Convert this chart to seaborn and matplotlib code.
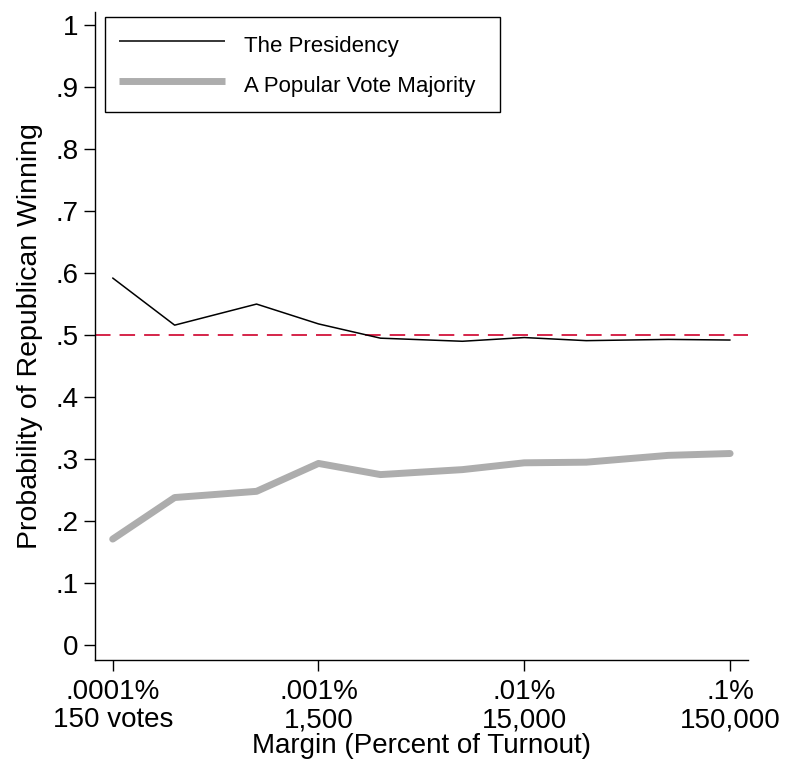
import matplotlib
matplotlib.use("Agg")
import matplotlib.pyplot as plt
import seaborn as sns
import pandas as pd
import numpy as np

# ---- data ----
margin_pct = [0.0001, 0.0002, 0.0005, 0.001, 0.002, 0.005, 0.01, 0.02, 0.05, 0.1]
presidency = [0.592, 0.516, 0.550, 0.518, 0.495, 0.490, 0.496, 0.491, 0.493, 0.492]
popular_majority = [0.171, 0.238, 0.248, 0.293, 0.275, 0.283, 0.294, 0.295, 0.306, 0.309]
series_names = ["The Presidency", "A Popular Vote Majority"]
xtick_vals = [0.0001, 0.001, 0.01, 0.1]
xtick_labels = [".0001%\n150 votes", ".001%\n1,500", ".01%\n15,000", ".1%\n150,000"]
ytick_vals = [0, 0.1, 0.2, 0.3, 0.4, 0.5, 0.6, 0.7, 0.8, 0.9, 1.0]
ytick_labels = ["0", ".1", ".2", ".3", ".4", ".5", ".6", ".7", ".8", ".9", "1"]
reference_level = 0.5

df = pd.DataFrame({
    "margin": margin_pct * 2,
    "prob": presidency + popular_majority,
    "series": [series_names[0]] * len(margin_pct) + [series_names[1]] * len(margin_pct),
})

sns.set_theme(style="ticks")
plt.rcParams["font.family"] = ["Liberation Sans", "DejaVu Sans"]

FS = 20
fig = plt.figure(figsize=(7.87, 7.70), dpi=100)
ax = fig.add_axes([95 / 787, 1 - 660 / 770, (748 - 95) / 787, (660 - 12) / 770])

ax.axhline(reference_level, color="#D2143C", lw=1.3, linestyle=(0, (8.6, 5.0)), zorder=1)

sns.lineplot(
    data=df, x="margin", y="prob", hue="series", size="series",
    hue_order=series_names, size_order=series_names,
    palette={series_names[0]: "black", series_names[1]: "#ADADAD"},
    sizes={series_names[0]: 1.1, series_names[1]: 5.0},
    ax=ax, legend=True, zorder=3,
)
for ln in ax.get_lines():
    ln.set_solid_capstyle("round")
    ln.set_solid_joinstyle("round")

ax.set_xscale("log")
ax.set_xlim(1e-4 * 10 ** -0.086, 1e-4 * 10 ** 3.087)
ax.set_ylim(-0.024, 1.021)
ax.set_xticks(xtick_vals)
ax.set_xticklabels(xtick_labels, fontsize=FS, linespacing=1.1)
ax.xaxis.set_minor_locator(matplotlib.ticker.NullLocator())
ax.set_yticks(ytick_vals)
ax.set_yticklabels(ytick_labels, fontsize=FS)
ax.tick_params(axis="both", direction="out", length=8, width=1.0, color="black", labelcolor="black")
ax.tick_params(axis="x", pad=6)
ax.tick_params(axis="y", pad=4)

ax.set_xlabel("Margin (Percent of Turnout)", fontsize=FS, labelpad=0, color="black")
ax.set_ylabel("Probability of Republican Winning", fontsize=20.5, labelpad=9, color="black")

for s in ["top", "right"]:
    ax.spines[s].set_visible(False)
for s in ["left", "bottom"]:
    ax.spines[s].set_color("black")
    ax.spines[s].set_linewidth(1.0)

handles, labels = ax.get_legend_handles_labels()
leg = ax.legend(
    handles, labels,
    loc="upper left", bbox_to_anchor=(10 / 653, (660 - 17) / 648, 395 / 653, 0.0), mode="expand",
    fontsize=16, frameon=True, fancybox=False, edgecolor="black", framealpha=1,
    handlelength=4.77, handleheight=1.55, handletextpad=0.86, borderpad=0.62, labelspacing=0.53,
    borderaxespad=0,
)
leg.get_frame().set_linewidth(1.0)
for t in leg.get_texts():
    t.set_color("black")
for lh, w in zip(leg.get_lines(), [1.1, 5.0]):
    lh.set_linewidth(w)
    lh.set_solid_capstyle("butt")

fig.savefig("out.png", dpi=100)
